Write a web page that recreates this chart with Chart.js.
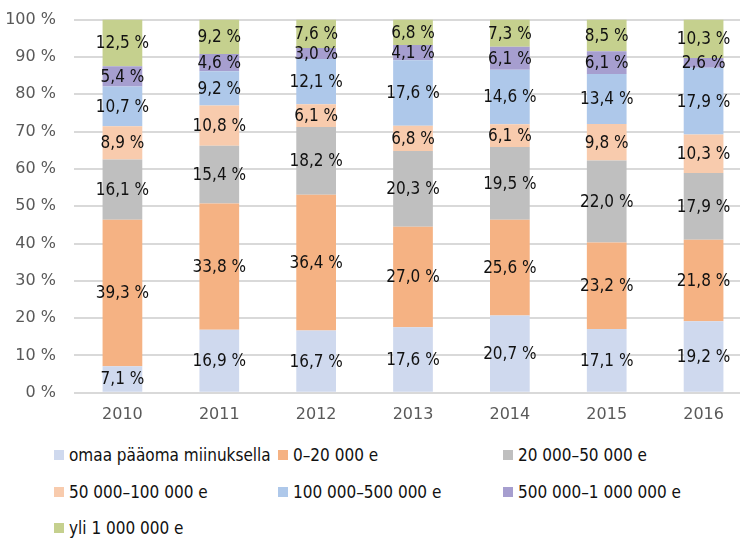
<!DOCTYPE html>
<html>
<head>
<meta charset="utf-8">
<script src="https://cdn.jsdelivr.net/npm/chart.js@4"></script>
<style>
  html, body { margin: 0; padding: 0; background: #fff; overflow: hidden; }
  #wrap { position: relative; width: 740px; height: 538px; overflow: hidden; }
  #box { position: absolute; left: 0; top: -8px; width: 752px; height: 444px; }
  .legend { position: absolute; font-family: "DejaVu Sans", sans-serif; font-stretch: condensed; font-size: 17px; color: #111; }
  .legend span.sw { display: inline-block; width: 10px; height: 10px; margin-right: 5px; vertical-align: middle; position: relative; top: -1px; }
  .legend div { position: absolute; white-space: nowrap; line-height: 20px; }
</style>
</head>
<body>
<div id="wrap">
  <div id="box"><canvas id="chart"></canvas></div>
  <div class="legend" id="legend"></div>
</div>
<script>
const years = ['2010', '2011', '2012', '2013', '2014', '2015', '2016']
const seriesNames = ['omaa pääoma miinuksella', '0–20 000 e', '20 000–50 000 e', '50 000–100 000 e', '100 000–500 000 e', '500 000–1 000 000 e', 'yli 1 000 000 e']
const negative = [7.1, 16.9, 16.7, 17.6, 20.7, 17.1, 19.2]
const upTo20k = [39.3, 33.8, 36.4, 27.0, 25.6, 23.2, 21.8]
const upTo50k = [16.1, 15.4, 18.2, 20.3, 19.5, 22.0, 17.9]
const upTo100k = [8.9, 10.8, 6.1, 6.8, 6.1, 9.8, 10.3]
const upTo500k = [10.7, 9.2, 12.1, 17.6, 14.6, 13.4, 17.9]
const upTo1m = [5.4, 4.6, 3.0, 4.1, 6.1, 6.1, 2.6]
const over1m = [12.5, 9.2, 7.6, 6.8, 7.3, 8.5, 10.3]
const colors = ['#cfd9ee', '#f5b283', '#bfbfbf', '#f8cbad', '#aec8ea', '#a69ecf', '#c5d08e']

const allValues = [negative, upTo20k, upTo50k, upTo100k, upTo500k, upTo1m, over1m]
const fontName = '"DejaVu Sans", sans-serif'

// percent of each year's total, like Excel's 100 % stacked column
const totals = years.map((y, i) => allValues.reduce((s, arr) => s + arr[i], 0))

const datasets = allValues.map((arr, k) => ({
  label: seriesNames[k],
  data: arr.map((v, i) => v / totals[i] * 100),
  raw: arr,
  backgroundColor: colors[k],
  borderWidth: 0,
  barPercentage: 0.41,
  categoryPercentage: 1
}))

const fmt = v => v.toFixed(1).replace('.', ',') + ' %'

const labelPlugin = {
  id: 'segLabels',
  afterDatasetsDraw(chart) {
    const ctx = chart.ctx
    ctx.save()
    ctx.font = 'condensed 17px ' + fontName
    ctx.fillStyle = '#111'
    ctx.textAlign = 'center'
    ctx.textBaseline = 'middle'
    chart.data.datasets.forEach((ds, k) => {
      chart.getDatasetMeta(k).data.forEach((bar, i) => {
        const p = bar.getProps(['x', 'y', 'base'], true)
        ctx.fillText(fmt(ds.raw[i]), p.x, (p.y + p.base) / 2 + 1)
      })
    })
    ctx.restore()
  }
}

const chart = document.getElementById('chart')

new Chart(chart, {
  type: 'bar',
  data: { labels: years, datasets: datasets },
  plugins: [labelPlugin],
  options: {
    responsive: true,
    maintainAspectRatio: false,
    animation: false,
    layout: { padding: { top: 2, bottom: 8, right: 0, left: 0 } },
    plugins: { legend: { display: false }, tooltip: { enabled: false } },
    scales: {
      x: {
        stacked: true,
        grid: { display: false },
        border: { display: false },
        ticks: { color: '#595959', font: { family: fontName, size: 16, style: 'condensed' }, padding: 4 }
      },
      y: {
        stacked: true,
        min: 0,
        max: 100,
        afterFit: s => { s.width = 74 },
        grid: { color: '#d9d9d9', lineWidth: 2, drawTicks: false },
        border: { display: false },
        ticks: {
          stepSize: 10,
          color: '#595959',
          padding: 18,
          font: { family: fontName, size: 16, style: 'condensed' },
          callback: v => v + ' %'
        }
      }
    }
  }
})

// legend in three columns, like the original
const legendBox = document.getElementById('legend')
const colX = [54, 278, 503]
const rowY = [445, 482, 518]
seriesNames.forEach((name, k) => {
  const item = document.createElement('div')
  item.style.left = colX[k % 3] + 'px'
  item.style.top = rowY[Math.floor(k / 3)] + 'px'
  item.innerHTML = '<span class="sw" style="background:' + colors[k] + '"></span>' + name
  legendBox.appendChild(item)
})
</script>
</body>
</html>
